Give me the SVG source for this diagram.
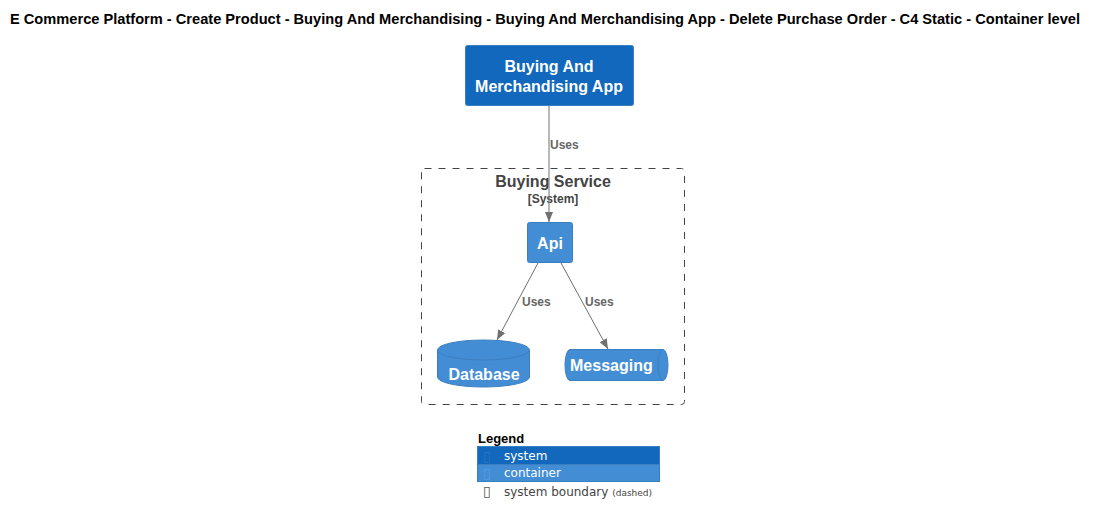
<svg xmlns="http://www.w3.org/2000/svg" width="1098" height="525" viewBox="0 0 1098 525">
<style>
.t{font-family:"Liberation Sans",Arial,sans-serif}
.title{font-size:14px;font-weight:bold;fill:#000}
.nt{font-size:16px;font-weight:bold;fill:#fff;text-anchor:middle}
.lbl{font-size:12px;font-weight:bold;fill:#666}
.edge{stroke:#707070;stroke-width:1;fill:none}
.leg{font-family:"DejaVu Sans",sans-serif;font-size:12px}
.tofu{font-family:"DejaVu Sans",sans-serif;font-size:14px}
</style>
<defs>
<marker id="arr" viewBox="0 0 10 10" refX="10" refY="5" markerWidth="10" markerHeight="10" markerUnits="userSpaceOnUse" orient="auto">
<path d="M0,1 L10,5 L0,9 Z" fill="#707070"/>
</marker>
</defs>
<rect width="1098" height="525" fill="#fff"/>
<text class="t title" x="10" y="24" textLength="1070" lengthAdjust="spacingAndGlyphs">E Commerce Platform - Create Product - Buying And Merchandising - Buying And Merchandising App - Delete Purchase Order - C4 Static - Container level</text>

<g id="boundary">
<rect x="421.5" y="168.5" width="263" height="236" rx="3" fill="none" stroke="#444" stroke-dasharray="7,7"/>
<text class="t" x="553" y="187" font-size="16" font-weight="bold" fill="#444" text-anchor="middle">Buying Service</text>
<text class="t" x="553" y="203" font-size="12" font-weight="bold" fill="#444" text-anchor="middle">[System]</text>
</g>

<g id="app">
<rect x="465.5" y="45.5" width="168" height="60" rx="2" fill="#1168BD" stroke="#3C7FC0"/>
<text class="t nt" x="549" y="72">Buying And</text>
<text class="t nt" x="549" y="92">Merchandising App</text>
</g>

<g id="api">
<rect x="527.5" y="222.5" width="45" height="40" rx="2" fill="#438DD5" stroke="#3C7FC0"/>
<text class="t nt" x="550" y="249">Api</text>
</g>

<g id="database">
<path d="M437.5,350 A46,10 0 0 1 529.5,350 L529.5,377 A46,10 0 0 1 437.5,377 Z" fill="#438DD5" stroke="#3C7FC0"/>
<path d="M437.5,350 A46,10 0 0 0 529.5,350" fill="none" stroke="#3C7FC0"/>
<text class="t nt" x="484" y="380">Database</text>
</g>

<g id="messaging">
<path d="M570,349.5 L663,349.5 A5,15.5 0 0 1 663,380.5 L570,380.5 A5,15.5 0 0 1 570,349.5 Z" fill="#438DD5" stroke="#3C7FC0"/>
<path d="M663,349.5 A5,15.5 0 0 0 663,380.5" fill="none" stroke="#3C7FC0"/>
<text class="t" x="570" y="371" font-size="16" font-weight="bold" fill="#fff">Messaging</text>
</g>

<g id="connectors">
<line class="edge" x1="549" y1="106" x2="549" y2="222" marker-end="url(#arr)"/>
<text class="t lbl" x="550" y="149">Uses</text>
<line class="edge" x1="538" y1="263" x2="497" y2="340" marker-end="url(#arr)"/>
<text class="t lbl" x="522" y="306">Uses</text>
<line class="edge" x1="561" y1="263" x2="608" y2="349" marker-end="url(#arr)"/>
<text class="t lbl" x="585" y="306">Uses</text>
</g>

<g id="legend">
<text class="t" x="478" y="443" font-size="13" font-weight="bold" fill="#000">Legend</text>
<rect x="477.5" y="446.5" width="182" height="18" fill="#1168BD" stroke="#3C7FC0"/>
<rect x="477.5" y="464.5" width="182" height="17" fill="#438DD5" stroke="#3C7FC0"/>
<text class="tofu" x="483" y="461" fill="#2a74c4">▯</text>
<text class="leg" x="504" y="460" fill="#fff">system</text>
<text class="tofu" x="483" y="478" fill="#5a9de0">▯</text>
<text class="leg" x="504" y="477" fill="#fff">container</text>
<text class="tofu" x="483" y="496" fill="#555">▯</text>
<text class="leg" x="504" y="496" fill="#444">system boundary <tspan font-size="9">(dashed)</tspan></text>
</g>
</svg>
